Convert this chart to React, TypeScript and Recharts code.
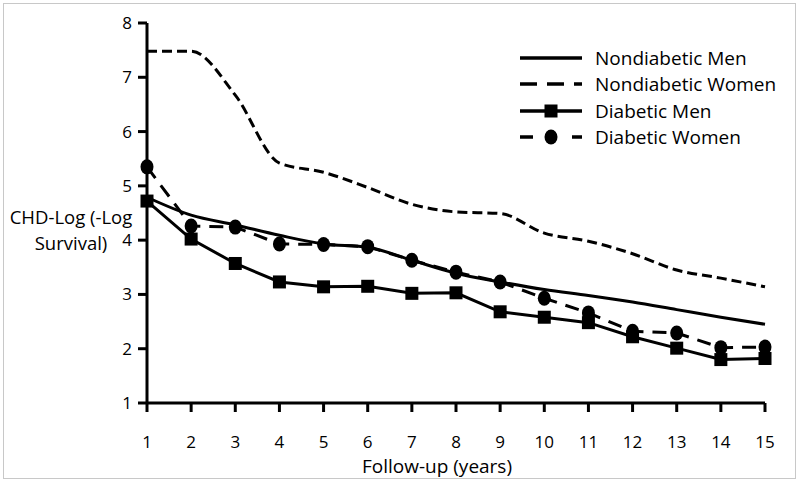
import { Legend, Line, LineChart, XAxis, YAxis } from "recharts";

// follow-up years and CHD -log survival
const years = [1, 2, 3, 4, 5, 6, 7, 8, 9, 10, 11, 12, 13, 14, 15];
const nondiabeticMen = [4.79, 4.46, 4.28, 4.09, 3.93, 3.87, 3.63, 3.39, 3.23, 3.09, 2.98, 2.86, 2.72, 2.58, 2.45];
const nondiabeticWomen = [7.48, 7.48, 6.67, 5.42, 5.25, 4.97, 4.66, 4.52, 4.49, 4.13, 3.98, 3.75, 3.45, 3.3, 3.14];
const diabeticMen = [4.72, 4.02, 3.57, 3.23, 3.14, 3.15, 3.02, 3.03, 2.68, 2.58, 2.48, 2.22, 2.01, 1.8, 1.82];
const diabeticWomen = [5.35, 4.26, 4.24, 3.93, 3.92, 3.88, 3.63, 3.41, 3.23, 2.93, 2.66, 2.32, 2.29, 2.02, 2.03];
const yTicks = [1, 2, 3, 4, 5, 6, 7, 8];

const FONT = "'Open Sans', sans-serif";
const INK = "#000";

type Marker = "none" | "square" | "circle";

interface Series {
  key: string;
  name: string;
  dash?: string;
  legendDash?: string;
  marker: Marker;
  curve: "monotone" | "linear";
}

const series: Series[] = [
  { key: "nm", name: "Nondiabetic Men", marker: "none", curve: "monotone" },
  { key: "nw", name: "Nondiabetic Women", dash: "10 5", legendDash: "17 10", marker: "none", curve: "monotone" },
  { key: "dm", name: "Diabetic Men", marker: "square", curve: "linear" },
  { key: "dw", name: "Diabetic Women", dash: "14 9", legendDash: "13 39", marker: "circle", curve: "linear" },
];

const rows = years.map((x, i) => ({
  x,
  nm: nondiabeticMen[i],
  nw: nondiabeticWomen[i],
  dm: diabeticMen[i],
  dw: diabeticWomen[i],
}));

function MarkerShape({ kind, cx, cy }: { kind: Marker; cx: number; cy: number }) {
  if (kind === "square") return <rect x={cx - 6.5} y={cy - 6.5} width={13} height={13} fill={INK} />;
  if (kind === "circle") return <ellipse cx={cx} cy={cy} rx={6.5} ry={7.5} fill={INK} />;
  return null;
}

function dotFor(kind: Marker) {
  if (kind === "none") return false;
  return (p: any) => <MarkerShape key={`m-${p.index}`} kind={kind} cx={p.cx} cy={p.cy} />;
}

function LegendBox() {
  return (
    <div style={{ fontFamily: FONT, fontSize: 19, color: INK }}>
      {series.map((s) => (
        <div key={s.key} style={{ display: "flex", alignItems: "center", height: 26.3 }}>
          <svg width={62} height={26} style={{ marginRight: 13 }}>
            <line x1={0} x2={62} y1={13} y2={13} stroke={INK} strokeWidth={3.5} strokeDasharray={s.legendDash} />
            <MarkerShape kind={s.marker} cx={31} cy={13} />
          </svg>
          <span style={{ whiteSpace: "nowrap" }}>{s.name}</span>
        </div>
      ))}
    </div>
  );
}

// two-line axis title sitting left of the tick labels, just above the "4" tick
function YTitle(props: any) {
  const vb = props.viewBox;
  const cx = vb.x + 71;
  const cy = vb.y + vb.height / 2 + 16;
  return (
    <text textAnchor="middle" fontFamily={FONT} fontSize={18.5} fill={INK}>
      <tspan x={cx} y={cy - 13} dominantBaseline="central">CHD-Log (-Log</tspan>
      <tspan x={cx} y={cy + 13} dominantBaseline="central">Survival)</tspan>
    </text>
  );
}

function XTitle(props: any) {
  const vb = props.viewBox;
  return (
    <text
      x={vb.x + vb.width / 2 - 19}
      y={vb.y + 63}
      textAnchor="middle"
      dominantBaseline="central"
      fontFamily={FONT}
      fontSize={19}
      fill={INK}
    >
      Follow-up (years)
    </text>
  );
}

export default function App() {
  const axisTick = { fill: INK, fontSize: 17, fontFamily: FONT };
  return (
    <div style={{ position: "absolute", left: 0, top: 0, width: 800, height: 483, background: "#fff" }}>
      <div
        style={{
          position: "absolute",
          left: 3,
          top: 3,
          width: 791,
          height: 474,
          border: "1px solid #c8c8c8",
        }}
      />
      <LineChart width={800} height={483} data={rows} margin={{ top: 23, right: 35, bottom: 0, left: 0 }}>
        <XAxis
          dataKey="x"
          type="number"
          domain={[1, 15]}
          ticks={years}
          height={80}
          tick={axisTick}
          tickSize={9}
          tickMargin={24}
          tickLine={{ stroke: INK, strokeWidth: 3 }}
          axisLine={{ stroke: INK, strokeWidth: 3 }}
          label={XTitle}
        />
        <YAxis
          type="number"
          domain={[1, 8]}
          ticks={yTicks}
          width={147}
          tick={axisTick}
          tickSize={9}
          tickMargin={6}
          tickLine={{ stroke: INK, strokeWidth: 3 }}
          axisLine={{ stroke: INK, strokeWidth: 3 }}
          label={YTitle}
        />
        <Legend
          layout="vertical"
          align="center"
          verticalAlign="middle"
          content={LegendBox}
          wrapperStyle={{ left: 520, top: 45, width: 270 }}
        />
        {series.map((s) => (
          <Line
            key={s.key}
            type={s.curve}
            dataKey={s.key}
            name={s.name}
            stroke={INK}
            strokeWidth={3}
            strokeDasharray={s.dash}
            dot={dotFor(s.marker)}
            activeDot={false}
            isAnimationActive={false}
          />
        ))}
      </LineChart>
    </div>
  );
}
